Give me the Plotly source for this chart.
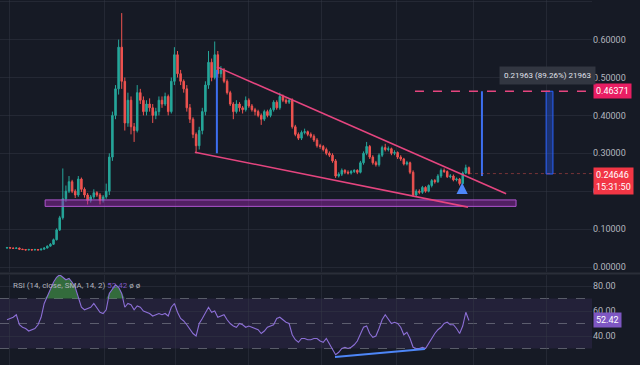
import plotly.graph_objects as go

# ---------------- data ----------------
opens = [0.050,0.051,0.050,0.049,0.050,0.047,0.046,0.045,0.046,0.045,0.046,0.045,0.047,
 0.050,0.055,0.060,0.072,0.098,0.130,0.180,0.200,0.225,0.200,0.190,0.232,0.205,
 0.190,0.175,0.185,0.196,0.190,0.175,0.185,0.200,0.290,0.400,0.470,0.580,0.490,0.380,
 0.440,0.370,0.360,0.460,0.440,0.410,0.430,0.420,0.400,0.410,
 0.440,0.430,0.450,0.410,0.490,0.560,0.510,0.490,0.470,0.420,
 0.390,0.350,0.320,0.360,0.410,0.480,0.540,0.500,0.560,0.510,
 0.520,0.490,0.460,0.430,0.410,0.430,0.420,0.415,0.440,0.425,
 0.415,0.410,0.400,0.390,0.410,0.400,0.415,0.435,0.420,0.450,
 0.440,0.435,0.440,0.370,0.350,0.340,0.355,0.357,0.350,0.345,
 0.335,0.320,0.318,0.310,0.300,0.295,0.280,0.240,0.245,0.255,
 0.250,0.248,0.252,0.255,0.250,0.275,0.300,0.318,0.290,0.275,
 0.270,0.295,0.315,0.310,0.312,0.300,0.302,0.290,0.285,0.272,
 0.275,0.250,0.190,0.200,0.197,0.210,0.200,0.215,0.228,0.225,
 0.240,0.255,0.252,0.238,0.240,0.230,0.232,0.220,0.248,0.262]

closes = [0.051,0.050,0.049,0.050,0.047,0.046,0.045,0.046,0.045,0.046,0.045,0.047,0.050,
 0.055,0.060,0.072,0.098,0.130,0.180,0.200,0.225,0.200,0.190,0.232,0.205,0.190,
 0.175,0.185,0.196,0.190,0.175,0.185,0.200,0.290,0.400,0.470,0.580,0.490,0.380,0.440,
 0.370,0.360,0.460,0.440,0.410,0.430,0.420,0.400,0.410,0.440,
 0.430,0.450,0.410,0.490,0.560,0.510,0.490,0.470,0.420,0.390,
 0.350,0.320,0.360,0.410,0.480,0.540,0.500,0.560,0.510,0.520,
 0.490,0.460,0.430,0.410,0.430,0.420,0.415,0.440,0.425,0.415,
 0.410,0.400,0.390,0.410,0.400,0.415,0.435,0.420,0.450,0.440,
 0.435,0.440,0.370,0.350,0.340,0.355,0.357,0.350,0.345,0.335,
 0.320,0.318,0.310,0.300,0.295,0.280,0.240,0.245,0.255,0.250,
 0.248,0.252,0.255,0.250,0.275,0.300,0.318,0.290,0.275,0.270,
 0.295,0.315,0.310,0.312,0.300,0.302,0.290,0.285,0.272,0.275,
 0.250,0.190,0.200,0.197,0.210,0.200,0.215,0.228,0.225,0.240,
 0.255,0.252,0.238,0.240,0.230,0.232,0.220,0.248,0.262,0.24646]

highs = [0.053,0.052,0.051,0.052,0.051,0.048,0.047,0.048,0.047,0.048,0.047,0.049,0.052,
 0.057,0.063,0.075,0.102,0.135,0.260,0.215,0.240,0.230,0.205,0.240,0.236,0.210,
 0.195,0.190,0.205,0.200,0.195,0.190,0.220,0.300,0.410,0.480,0.600,0.670,0.500,0.460,
 0.450,0.380,0.480,0.470,0.450,0.440,0.445,0.430,0.420,0.450,
 0.450,0.460,0.455,0.500,0.580,0.570,0.520,0.495,0.480,0.430,
 0.395,0.355,0.370,0.420,0.490,0.570,0.550,0.595,0.570,0.530,
 0.525,0.495,0.465,0.435,0.440,0.435,0.425,0.450,0.445,0.430,
 0.420,0.415,0.405,0.415,0.415,0.420,0.440,0.440,0.460,0.455,
 0.445,0.445,0.445,0.375,0.355,0.360,0.365,0.360,0.355,0.350,
 0.340,0.325,0.322,0.315,0.305,0.300,0.285,0.250,0.260,0.258,
 0.255,0.256,0.258,0.258,0.280,0.305,0.330,0.322,0.295,0.280,
 0.300,0.320,0.325,0.318,0.315,0.308,0.305,0.295,0.288,0.280,
 0.278,0.255,0.205,0.205,0.214,0.213,0.218,0.232,0.232,0.245,
 0.260,0.260,0.255,0.245,0.244,0.236,0.235,0.252,0.270,0.265]

lows = [0.049,0.049,0.048,0.048,0.046,0.045,0.044,0.044,0.044,0.044,0.044,0.044,0.046,
 0.049,0.054,0.058,0.070,0.095,0.125,0.172,0.195,0.195,0.182,0.185,0.198,0.183,
 0.165,0.170,0.180,0.185,0.165,0.170,0.180,0.190,0.280,0.390,0.455,0.470,0.360,0.370,
 0.350,0.330,0.355,0.430,0.400,0.400,0.410,0.380,0.390,0.400,
 0.420,0.425,0.400,0.405,0.480,0.500,0.480,0.460,0.410,0.380,
 0.340,0.300,0.310,0.350,0.400,0.470,0.490,0.495,0.500,0.500,
 0.485,0.455,0.425,0.390,0.405,0.410,0.405,0.410,0.420,0.410,
 0.400,0.395,0.375,0.385,0.395,0.395,0.410,0.415,0.415,0.435,
 0.430,0.430,0.365,0.345,0.335,0.335,0.350,0.345,0.340,0.330,
 0.315,0.312,0.305,0.295,0.290,0.275,0.235,0.236,0.240,0.245,
 0.244,0.244,0.248,0.245,0.247,0.270,0.295,0.285,0.270,0.265,
 0.265,0.290,0.305,0.305,0.295,0.295,0.285,0.280,0.268,0.268,
 0.245,0.185,0.185,0.192,0.193,0.196,0.197,0.210,0.220,0.222,
 0.235,0.248,0.235,0.234,0.226,0.226,0.215,0.218,0.245,0.244]

rsi = [53,54,55,57,49,47,46,44,45,46,49,55,66,72,77,83,87,89,87,85,
 86,83,79,70,63,61,62,63,66,62,59,58,61,74,78,81,79,74,63,66,
 65,61,64,63,60,59,58,56,57,58,57,58,56,63,66,59,54,52,49,45,
 42,40,50,54,58,63,59,60,55,56,57,53,50,48,47,50,49,47,48,47,
 46,45,42,44,47,48,49,54,55,53,51,50,41,37,35,38,38,37,37,38,
 38,36,35,38,34,30,25,27,30,31,30,31,33,36,41,47,48,42,39,40,
 46,53,57,53,50,51,50,47,41,43,38,31,30,30,31,30,34,39,42,45,
 47,50,51,49,49,46,42,48,59,52.42]

price_ticks = [0.0, 0.1, 0.2, 0.3, 0.4, 0.5, 0.6, 0.7]
rsi_ticks = [40, 60, 80]

last_price = 0.24646
target_price = 0.46371
last_rsi = 52.42
timer_text = "15:31:50"
measure_text = "0.21963 (89.26%) 21963"
rsi_title = "RSI (14, close, SMA, 14, 2)"

# drawing anchors (candle index, price)
wedge_upper = [(67.7, 0.528), (161.0, 0.193)]
wedge_lower = [(60.6, 0.303), (148.7, 0.158)]
support_band = [(12.3, 0.160), (164.2, 0.177)]
flag_pole = [(67.7, 0.300), (67.7, 0.520)]
proj_line = [(153.2, 0.240), (153.2, target_price)]
proj_rect = [(173.9, 0.2454), (176.1, target_price)]
rsi_div = [(105.8, 23.2), (134.8, 29.6)]
arrow_tip = (146.8, 0.222)
arrow_tail = (146.8, 0.191)

# ---------------- figure ----------------
n = len(closes)
idx = list(range(n))
BG = "#161a25"
GRID = "rgba(54,58,70,0.45)"
TXT = "#b2b5be"
XR = [-2.26, 188.7]
VGRID = [0.8, 31.6, 54.2, 78, 101.6, 125.5, 150.6, 174]

fig = go.Figure()
fig.add_trace(go.Candlestick(
    x=idx, open=opens, high=highs, low=lows, close=closes,
    increasing=dict(line=dict(color="#26a69a", width=1), fillcolor="#26a69a"),
    decreasing=dict(line=dict(color="#ef5350", width=1), fillcolor="#ef5350"),
    whiskerwidth=0, xaxis="x", yaxis="y", showlegend=False, hoverinfo="skip"))

over = [max(v, 70) for v in rsi]
fig.add_trace(go.Scatter(x=idx, y=[70]*n, mode="lines", line=dict(width=0),
                         xaxis="x2", yaxis="y2", showlegend=False, hoverinfo="skip"))
fig.add_trace(go.Scatter(x=idx, y=over, mode="lines", line=dict(width=0),
                         fill="tonexty", fillcolor="rgba(76,175,80,0.55)",
                         xaxis="x2", yaxis="y2", showlegend=False, hoverinfo="skip"))
fig.add_trace(go.Scatter(x=idx, y=rsi, mode="lines",
                         line=dict(color="#8c6fd6", width=1.1),
                         xaxis="x2", yaxis="y2", showlegend=False, hoverinfo="skip"))

shapes = []
shapes.append(dict(type="rect", xref="paper", yref="y2", x0=0, x1=1, y0=30, y1=70,
                   fillcolor="rgba(126,87,194,0.13)", line=dict(width=0), layer="below"))
for lv in (70, 50, 30):
    shapes.append(dict(type="line", xref="paper", yref="y2", x0=0, x1=1, y0=lv, y1=lv,
                       line=dict(color="rgba(140,143,154,0.55)", width=1, dash="dash"),
                       layer="below"))
shapes.append(dict(type="line", xref="paper", yref="paper", x0=0, x1=1.1,
                   y0=1-273.5/365, y1=1-273.5/365, line=dict(color="#2a2e39", width=2)))
shapes.append(dict(type="rect", xref="x", yref="y",
                   x0=support_band[0][0], x1=support_band[1][0],
                   y0=support_band[0][1], y1=support_band[1][1],
                   fillcolor="rgba(156,39,176,0.45)", line=dict(color="#b055d0", width=1)))
for ln in (wedge_upper, wedge_lower):
    shapes.append(dict(type="line", xref="x", yref="y", x0=ln[0][0], y0=ln[0][1],
                       x1=ln[1][0], y1=ln[1][1], line=dict(color="#e5457f", width=1.6)))
for ln in (flag_pole, proj_line):
    shapes.append(dict(type="line", xref="x", yref="y", x0=ln[0][0], y0=ln[0][1],
                       x1=ln[1][0], y1=ln[1][1], line=dict(color="#3d6ff0", width=2)))
shapes.append(dict(type="rect", xref="x", yref="y", x0=proj_rect[0][0], x1=proj_rect[1][0],
                   y0=proj_rect[0][1], y1=proj_rect[1][1],
                   fillcolor="rgba(41,98,255,0.35)", line=dict(color="#2962ff", width=1)))
shapes.append(dict(type="line", xref="x", yref="y", x0=131.6, x1=XR[1],
                   y0=target_price, y1=target_price,
                   line=dict(color="#e5457f", width=1.3, dash="dash")))
shapes.append(dict(type="line", xref="x", yref="y", x0=149, x1=XR[1],
                   y0=last_price, y1=last_price,
                   line=dict(color="rgba(239,83,80,0.45)", width=1, dash="dot")))
shapes.append(dict(type="line", xref="x2", yref="y2", x0=rsi_div[0][0], y0=rsi_div[0][1],
                   x1=rsi_div[1][0], y1=rsi_div[1][1], line=dict(color="#4d86f7", width=2)))

ann = []
ann.append(dict(xref="paper", yref="y", x=1, y=target_price, xanchor="left", yanchor="middle",
                xshift=1, text="0.46371", showarrow=False, bgcolor="#e91e63",
                font=dict(color="white", size=9), borderpad=2))
ann.append(dict(xref="paper", yref="y", x=1, y=last_price, xanchor="left", yanchor="top",
                xshift=1, yshift=7, text=f"0.24646<br>{timer_text}", showarrow=False,
                bgcolor="#f23645", font=dict(color="white", size=9), borderpad=2, align="left"))
ann.append(dict(xref="paper", yref="y2", x=1, y=last_rsi, xanchor="left", yanchor="middle",
                xshift=1, text="52.42", showarrow=False, bgcolor="#7e57c2",
                font=dict(color="white", size=9), borderpad=2))
ann.append(dict(xref="x", yref="y", x=174.5, y=0.504, xanchor="center", yanchor="middle",
                text=measure_text, showarrow=False, bgcolor="rgba(52,56,66,0.95)",
                font=dict(color="#e0e3eb", size=8), borderpad=4))
ann.append(dict(xref="paper", yref="paper", x=0.018, y=1-285/365, xanchor="left",
                yanchor="middle", showarrow=False,
                text=(f"<span style='color:#b2b5be'>{rsi_title}</span> "
                      f"<span style='color:#7e57c2'>52.42</span> "
                      f"<span style='color:#b2b5be'>ø ø</span>"),
                font=dict(size=8)))
ann.append(dict(xref="x", yref="y", x=arrow_tip[0], y=arrow_tip[1],
                axref="x", ayref="y", ax=arrow_tail[0], ay=arrow_tail[1],
                showarrow=True, arrowhead=2, arrowsize=0.9, arrowwidth=2.5,
                arrowcolor="#4d86f7", text=""))

fig.update_layout(
    width=640, height=365, margin=dict(l=0, r=48, t=0, b=0, autoexpand=False),
    paper_bgcolor=BG, plot_bgcolor=BG,
    font=dict(family="Roboto", color=TXT, size=9),
    shapes=shapes, annotations=ann, showlegend=False,
    xaxis=dict(domain=[0, 1], anchor="y", range=XR, showticklabels=False,
               showgrid=True, gridcolor=GRID, tickvals=VGRID, automargin=False,
               zeroline=False, rangeslider=dict(visible=False), fixedrange=True),
    xaxis2=dict(domain=[0, 1], anchor="y2", range=XR, matches="x", showticklabels=False,
                showgrid=True, gridcolor=GRID, tickvals=VGRID, automargin=False,
                zeroline=False),
    yaxis=dict(domain=[1-272/365, 1], anchor="x", side="right", range=[-0.0132, 0.7045],
               tickvals=price_ticks, tickformat=".5f", showgrid=True, gridcolor=GRID,
               automargin=False, zeroline=False, ticks="", tickfont=dict(size=9, color=TXT)),
    yaxis2=dict(domain=[0, 1-275/365], anchor="x2", side="right", range=[16.8, 88.8],
                tickvals=rsi_ticks, tickformat=".2f", showgrid=True, gridcolor=GRID,
                automargin=False, zeroline=False, ticks="", tickfont=dict(size=9, color=TXT)),
)

fig.write_html("out.html", config={"displayModeBar": False},
               post_script="document.body.style.margin='0';document.body.style.overflow='hidden';"
                           "document.body.style.background='#161a25';")
